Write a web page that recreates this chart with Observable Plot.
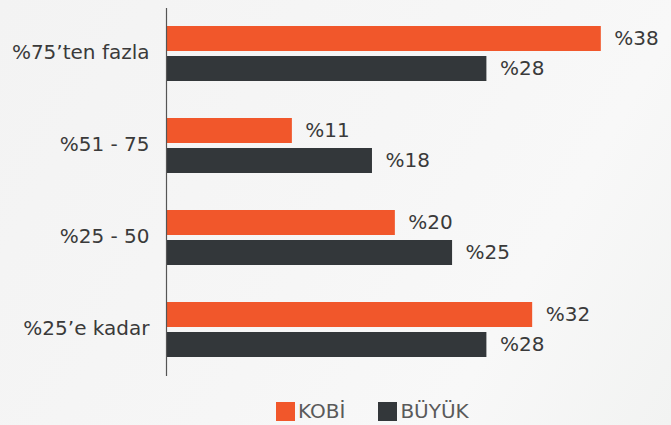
<!DOCTYPE html>
<html>
<head>
<meta charset="utf-8">
<script src="https://cdn.jsdelivr.net/npm/d3@7"></script>
<script src="https://cdn.jsdelivr.net/npm/@observablehq/plot@0.6"></script>
<style>
  html, body { margin: 0; padding: 0; }
  body {
    width: 671px; height: 425px; overflow: hidden;
    background: linear-gradient(120deg, #f3f3f3 0%, #f6f6f6 50%, #f8f8f8 75%, #f2f3f2 100%);
    font-family: "DejaVu Sans", sans-serif;
  }
  #legend {
    display: flex; align-items: center;
    margin-top: 14px; padding-left: 276px;
    font-size: 20px; color: #5a5a5a; font-weight: 400;
  }
  .sw { width: 19px; height: 19px; display: inline-block; margin-right: 3px; }
  .item { display: flex; align-items: center; margin-right: 33px; }
</style>
</head>
<body>
<div id="chart"></div>
<div id="legend"></div>
<script>
const categories = ["%75’ten fazla", "%51 - 75", "%25 - 50", "%25’e kadar"];
const series = ["KOBİ", "BÜYÜK"];
const kobi = [38, 11, 20, 32];
const buyuk = [28, 18, 25, 28];
const colors = ["#f1572b", "#33373a"];

const data = [];
categories.forEach((c, i) => {
  data.push({cat: c, series: series[0], value: kobi[i]});
  data.push({cat: c, series: series[1], value: buyuk[i]});
});

const chart = Plot.plot({
  width: 671,
  height: 385,
  marginTop: 7,
  marginBottom: 8,
  marginLeft: 166,
  marginRight: 45,
  style: {fontFamily: "DejaVu Sans, sans-serif", fontSize: "20px", fontWeight: "normal", background: "transparent", color: "#3a3a3a"},
  x: {domain: [0, 40.2], axis: null},
  y: {domain: series, axis: null, paddingInner: 0.16, paddingOuter: 0.57},
  fy: {domain: categories, padding: 0, axis: null},
  color: {domain: series, range: colors},
  marks: [
    Plot.axisFy({anchor: "left", tickSize: 0, tickPadding: 17, label: null, fontSize: 20, fontWeight: "normal", dy: -2, fill: "#3a3a3a"}),
    Plot.barX(data, {x: "value", y: "series", fy: "cat", fill: "series"}),
    Plot.text(data, {x: "value", y: "series", fy: "cat", text: d => "%" + d.value, dx: 13, textAnchor: "start", fill: "#3a3a3a", fontSize: 20, fontWeight: "normal"}),
    Plot.ruleX([0], {stroke: "#555", strokeWidth: 1.2})
  ]
});
document.getElementById("chart").appendChild(chart);

const legend = document.getElementById("legend");
series.forEach((s, i) => {
  const item = document.createElement("span");
  item.className = "item";
  const sw = document.createElement("span");
  sw.className = "sw";
  sw.style.background = colors[i];
  item.appendChild(sw);
  item.appendChild(document.createTextNode(s));
  legend.appendChild(item);
});
</script>
</body>
</html>
